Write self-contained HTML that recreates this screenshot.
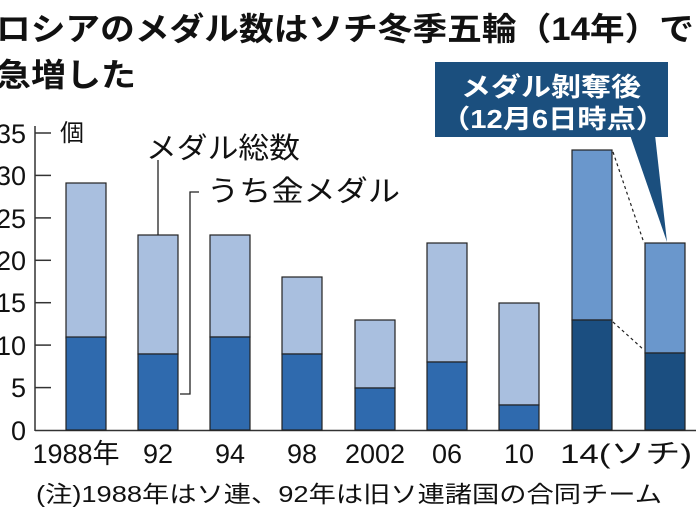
<!DOCTYPE html>
<html><head><meta charset="utf-8"><style>
body{margin:0;background:#fff;}
svg{display:block;font-family:"Liberation Sans","Noto Sans CJK JP",sans-serif;}
</style></head><body>
<svg width="696" height="522" viewBox="0 0 696 522">
<text x="-4" y="40" font-size="32" font-weight="bold" fill="#111" textLength="698" lengthAdjust="spacingAndGlyphs">ロシアのメダル数はソチ冬季五輪（14年）で</text>
<text x="-4" y="86" font-size="32" font-weight="bold" fill="#111" textLength="140" lengthAdjust="spacingAndGlyphs">急増した</text>
<!-- axis -->
<line x1="35" y1="126" x2="35" y2="431" stroke="#333" stroke-width="1.5"/>
<line x1="35" y1="430.5" x2="696" y2="430.5" stroke="#333" stroke-width="1.5"/>
<g stroke="#333" stroke-width="1.5">
<line x1="35" y1="133" x2="51" y2="133"/><line x1="35" y1="175.4" x2="51" y2="175.4"/>
<line x1="35" y1="217.9" x2="51" y2="217.9"/><line x1="35" y1="260.3" x2="51" y2="260.3"/>
<line x1="35" y1="302.7" x2="51" y2="302.7"/><line x1="35" y1="345.1" x2="51" y2="345.1"/>
<line x1="35" y1="387.6" x2="51" y2="387.6"/>
</g>
<g font-size="27" fill="#111" text-anchor="end">
<text x="26" y="143">35</text><text x="26" y="185">30</text><text x="26" y="228">25</text>
<text x="26" y="270">20</text><text x="26" y="312">15</text><text x="26" y="355">10</text>
<text x="26" y="397">5</text><text x="26" y="440">0</text>
</g>
<text x="60" y="141" font-size="24" fill="#111">個</text>
<!-- bars -->
<g stroke="#222" stroke-width="1.2">
<rect x="66" y="183" width="40" height="155" fill="#a9bfdf"/><rect x="66" y="337" width="40" height="93" fill="#2f6aae"/>
<rect x="138" y="235" width="40" height="119" fill="#a9bfdf"/><rect x="138" y="354" width="40" height="76" fill="#2f6aae"/>
<rect x="210" y="235" width="40" height="102" fill="#a9bfdf"/><rect x="210" y="337" width="40" height="93" fill="#2f6aae"/>
<rect x="282" y="277" width="40" height="77" fill="#a9bfdf"/><rect x="282" y="354" width="40" height="76" fill="#2f6aae"/>
<rect x="355" y="320" width="40" height="68" fill="#a9bfdf"/><rect x="355" y="388" width="40" height="42" fill="#2f6aae"/>
<rect x="427" y="243" width="40" height="119" fill="#a9bfdf"/><rect x="427" y="362" width="40" height="68" fill="#2f6aae"/>
<rect x="499" y="303" width="40" height="102" fill="#a9bfdf"/><rect x="499" y="405" width="40" height="25" fill="#2f6aae"/>
<rect x="572" y="150" width="40" height="170" fill="#6a97cc"/><rect x="572" y="320" width="40" height="110" fill="#1b4e80"/>
<rect x="645" y="243" width="40" height="110" fill="#6a97cc"/><rect x="645" y="353" width="40" height="77" fill="#1b4e80"/>
</g>
<g stroke="#222" stroke-width="1.2" stroke-dasharray="3,3">
<line x1="613" y1="152" x2="644" y2="243"/><line x1="613" y1="322" x2="644" y2="350"/>
</g>
<!-- legend -->
<text x="146" y="158" font-size="29" fill="#111" textLength="154" lengthAdjust="spacingAndGlyphs">メダル総数</text>
<text x="207" y="201" font-size="29" fill="#111" textLength="193" lengthAdjust="spacingAndGlyphs">うち金メダル</text>
<g stroke="#222" stroke-width="1.3" fill="none">
<line x1="158" y1="160" x2="158" y2="235"/>
<polyline points="199,192 190,192 190,394 180,394"/>
</g>
<!-- callout -->
<rect x="435" y="62" width="233" height="75" fill="#1b4f7e"/>
<polygon points="630,135 655,135 667,242" fill="#1b4f7e"/>
<text x="551" y="96" font-size="26" font-weight="bold" fill="#fff" text-anchor="middle" textLength="180" lengthAdjust="spacingAndGlyphs">メダル剝奪後</text>
<text x="553" y="128" font-size="26" font-weight="bold" fill="#fff" text-anchor="middle" textLength="224" lengthAdjust="spacingAndGlyphs">（12月6日時点）</text>
<!-- x labels -->
<g font-size="27" fill="#111" text-anchor="middle">
<text x="76" y="463">1988年</text><text x="158" y="463">92</text><text x="230" y="463">94</text>
<text x="302" y="463">98</text><text x="375" y="463">2002</text><text x="447" y="463">06</text>
<text x="519" y="463">10</text><text x="626" y="463" textLength="132" lengthAdjust="spacingAndGlyphs">14(ソチ)</text>
</g>
<text x="36" y="502" font-size="23" fill="#111" textLength="626" lengthAdjust="spacingAndGlyphs">(注)1988年はソ連、92年は旧ソ連諸国の合同チーム</text>
</svg>
</body></html>
